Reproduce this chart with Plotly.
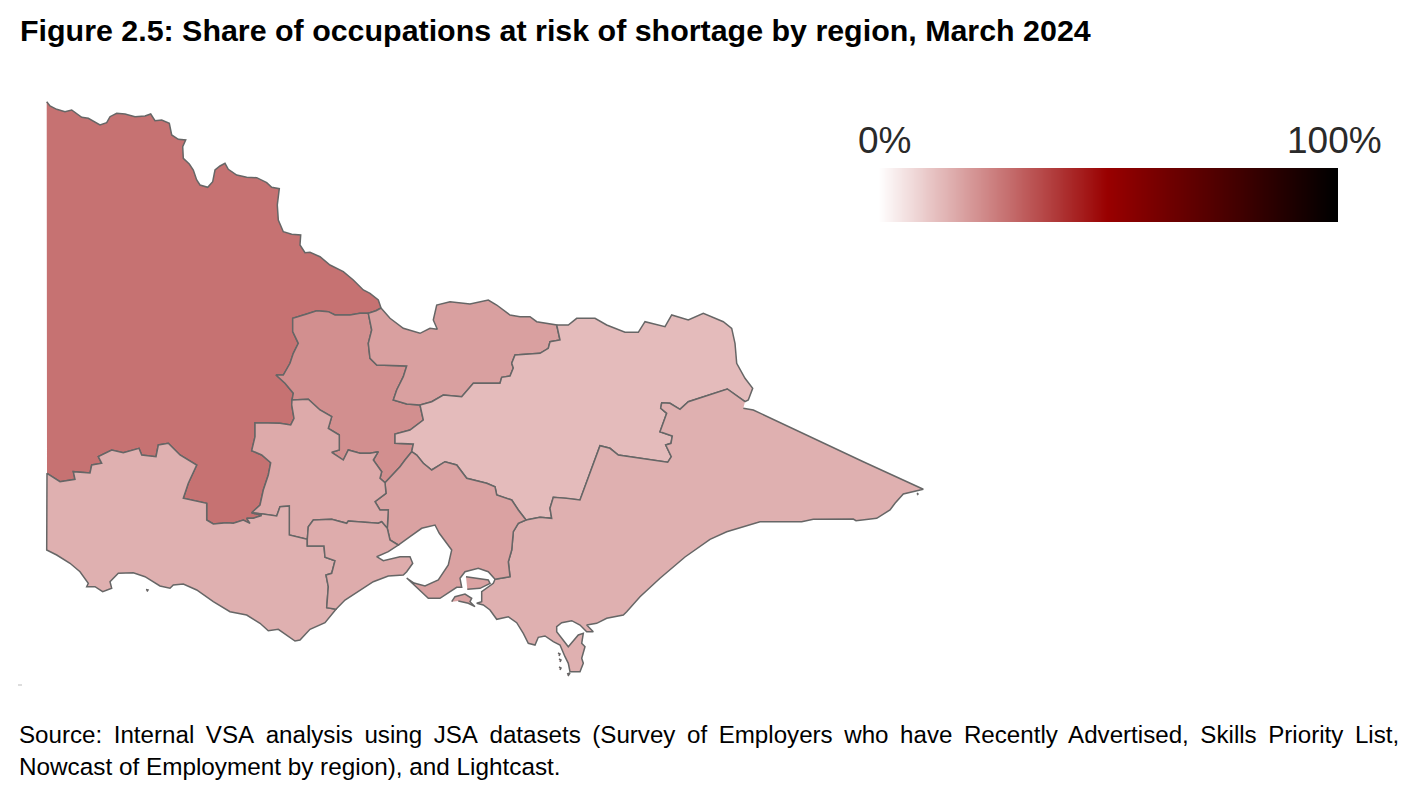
import plotly.graph_objects as go
from plotly.colors import sample_colorscale

# Traced borders, in reference pixels. Each border is shared by two regions
MURRAY_WEST = [(46.7,101.7),(50,106),(56.7,109.3),(65,111.7),(71.7,110),(76.7,113.3),(81.7,117.3),(88.3,118.3),(95,121.7),(100,125),
    (106.7,122.7),(110,116.7),(116.7,113.3),(125,114),(135,116.7),(145,116),(150.7,114),(155,120.7),(161.7,120),(169.3,123.3),
    (171.7,135),(178.3,139.3),(185.7,140),(182.7,146.7),(183.3,158.3),(189.3,164),(193.3,170),(196.7,180),(200,185),(207.7,187.3),
    (212.7,181.7),(215,170),(220,166),(225,163.3),(228.3,169.3),(236.7,175),(246.7,177.3),(256.7,177.7),(266.7,182.7),(271.7,187.3),
    (279.3,188.7),(277.3,205),(278.3,220),(283.3,231.7),(291.7,234.3),(300.7,235),(300,245),(305,252.7),(310,252.3),(320,256.7),
    (330,265),(343.3,271.7),(353.3,280),(363.3,290),(370,293.3),(378.3,300),(381,308)]
AC_TOP = [(381,308),(376,310.7),(368.3,313.3)]
AB = [(368.3,313.3),(360,313.3),(350,315),(335,315),(328.3,311.7),(316.7,310.7),(306.7,314),(292.7,318.3),(292.7,331.7),(298.3,343.3),
    (293.3,353.3),(290,363.3),(283.3,375),(276,375),(285,383.3),(293.3,393.3),(292,400)]
AG = [(292,400),(291.7,405),(294,418.3),(290.7,425),(280,423.3),(255,422.7),(255,436.7),(251.7,450.7),(261.7,455),(270.7,462.7),
    (268.3,475),(263.3,490),(260,505),(251.7,512.7)]
AH = [(251.7,512.7),(261.7,515.5),(253.3,518.3),(246.7,518.3),(250,523.3),(243.3,520),(233.3,523.3),(226.7,522.7),(213.3,524),(206.7,520),
    (206.7,503.3),(183.3,498.3),(188.3,483.3),(196.7,465),(180,455),(168.3,443.3),(158.3,445),(156,456.7),(141.7,455),(139,448.3),
    (123.3,452.7),(111.7,450),(98.3,456.7),(101.7,463.3),(91.7,465),(90,473),(73.3,471.7),(75,479.3),(60,481.7),(47,473.3)]
BG = [(292,400),(308.3,399.3),(320,410),(331.7,416.7),(328.3,428.3),(339.3,435),(339.3,450),(331.7,452.3),(343.3,460),(348.3,450),
    (360,453.3),(370,453.3),(378.3,451.7),(373.3,460),(381.7,471.7),(380,478.3),(385,482.7)]
BF = [(385,482.7),(400,466.7),(405,460),(411.7,451.7)]
BD = [(411.7,451.7),(413.3,444),(395,443.3),(395,434),(410,430),(423.3,420),(420,405)]
BC = [(420,405),(406.7,404),(393.3,400),(396.7,390),(403.3,376.7),(406.7,366),(376.7,365),(370,358.3),(368.3,343.3),(371.7,330),(368.3,313.3)]
C_NORTH = [(381,308),(390,318.3),(403.3,328.3),(420,333.3),(430,328.3),(437.3,329.3),(433.3,320),(436.7,305),(450,301.7),(470,304),
    (488.3,300),(496.7,305),(510,315),(520,316.7),(530,316.7),(536.7,321.7),(556.7,325)]
CD = [(556.7,325),(560,340),(550,341.7),(548.3,348.3),(540,353.3),(515,355),(511.7,363.3),(513.3,368),(510,376),(501.7,377.3),
    (500,383.3),(473.3,383.3),(461.7,396.7),(443.3,395),(431.7,401.7),(420,405)]
D_NORTH = [(556.7,325),(568.3,325),(576.7,318.3),(595,318.3),(606.7,325),(625,332.3),(638.3,332.3),(645,321.7),(665,326.7),(671.7,315),
    (688.3,320),(703.3,313.3),(723.3,321.7),(731.7,328.3),(735,343.3),(736.7,363.3),(745,378.3),(752.7,388.3),(748.3,400),(745,401.7)]
DE = [(745,401.7),(727.3,389),(688.3,401.7),(680,409.3),(670,403.3),(661.7,402.7),(660.7,408.3),(666.7,413.3),(660,431.7),(672.3,436),
    (671,443.3),(665.7,445),(671.3,456.7),(667.7,462.3),(618.3,455),(610,448.3),(600,445.7),(580,500),(566.7,498.3),(553.3,497.3),
    (550,508.3),(551.7,518.3),(540,517.3),(526,520)]
DF = [(411.7,451.7),(416.7,455),(423.3,463.3),(431.7,470),(445,461.7),(456.7,465),(466.7,478.3),(486.7,483.3),(495,486.7),(496.7,495),
    (511.7,500),(518.3,510),(526,520)]
EF = [(526,520),(518.3,523.3),(513.3,531.7),(511.7,550),(508.3,561.7),(510,576.7),(495,579.3)]
E_COAST = [(495,579.3),(493.3,583.3),(481.7,591.7),(481.7,601.7),(476.7,603.3),(483.3,605),(490,610),(496.7,619.3),(508.3,616.7),(516.7,622.7),
    (523.3,633.3),(528.3,643.3),(535,645),(538.3,637.3),(545,636),(553.3,641.7),(560,645),(565,656.7),(568.3,663.3),(570,671.7),
    (580,671.7),(583.3,663.3),(581.7,658.3),(585,646.7),(581.7,643.3),(583.3,633.3),(578.3,635),(568.3,646.7),(563.3,640),(556.7,631.7),
    (556.7,626.7),(561.7,622.7),(571.7,620.7),(580,625),(586.7,631.7),(593.3,631.7),(586.7,625),(596.7,623.3),(606.7,618.3),(623.3,615),
    (626.7,611.7),(640,596.7),(660,578.3),(685,557),(710,539.3),(726.7,531.7),(760,521.7),(801.7,521.7),(813.3,519.3),(853.3,519),
    (856,520.7),(876.7,518.3),(890,510),(895,503.3),(903.3,494),(923.3,489.3),(863.3,461.7),(800,431.7),(753.3,410),(743.3,408.3)]
F_COAST = [(495,579.3),(488.3,571.7),(478.3,568.3),(465,571.7),(460,578.3),(461.7,587.3),(456.7,587.3),(440,598.3),(428.3,598.3),(416,587),
    (406.7,578),(414,583),(425,586),(438.3,580),(448.3,565),(451.7,550),(439.3,533.3),(435,525),(421.7,528.3),(410,536.7),(398.3,545)]
IF = [(387.3,528.3),(390,540),(398.3,545)]
GF = [(385,482.7),(386,493.3),(375,501.7),(380,510),(388.3,510),(387.3,528.3)]
GI = [(307.3,539.3),(308.3,526.7),(313.3,520),(331.7,519.3),(346.7,523.3),(348.3,521),(378.3,523.3),(381.7,521.7),(387.3,528.3)]
GH = [(251.7,512.7),(263.3,514),(276.7,516),(280,506.7),(289.3,506),(289.3,535),(307.3,539.3)]
HI = [(336,609.3),(326.7,607.7),(328.3,586.7),(326,575),(331.7,573.3),(335,560.7),(325,557.3),(324,546),(307.3,546),(307.3,539.3)]
H_COAST = [(46.7,550),(56.7,555),(70,563.3),(80,571.7),(88.3,583.3),(86.7,586.7),(95,586.7),(102.7,591.7),(111.7,588.3),(110,581.7),
    (118.3,573.3),(133.3,572.7),(145,576.7),(160,586),(170,588.3),(173.3,585),(183.3,584),(196.7,590),(213.3,601.7),(230,611.7),
    (246.7,615),(260,623.3),(268.3,630.7),(278.3,629.3),(295,641),(300,640),(310,629.3),(325,622.7),(336,609.3)]
I_COAST = [(398.3,545),(388.3,551.7),(376.7,556.7),(383.3,560.7),(400,556.7),(410,556.7),(412.7,563.3),(406.7,571.7),(403.3,575),(388.3,576),
    (373.3,581.7),(358.3,591.7),(345,600),(336,609.3)]
FRENCH_ISLAND = [(466,576.7),(480,578.3),(488.3,580),(490,583.3),(480,588.3),(467.3,589.3)]
PHILLIP_ISLAND = [(451.7,601.7),(455,596.7),(465,594),(471.7,598.3),(470,601.7),(475,606.7),(468.3,603.3),(458.3,601)]
# tiny islands off the coast
SPECKS = [[(146,589.5),(148,590),(147,591.5)], [(558,653),(560,654),(559,656)], [(559,659),(561,660),(560,662)],
          [(559,667),(561,668),(560,670)], [(567,674),(570,673),(568,676)], [(917,493),(918,494),(917,495)]]
STRAY_MARK = [(18,685),(22,685)]


def rev(seg):
    return seg[::-1]


REGIONS = {
    "North West": MURRAY_WEST + AC_TOP + AB + AG + AH,
    "Loddon": AB + BG + BF + BD + BC,
    "Goulburn": C_NORTH + CD + BC + rev(AC_TOP),
    "Ovens Murray": D_NORTH + DE + rev(DF) + BD + rev(CD),
    "Gippsland": DE + EF + E_COAST,
    "Melbourne": DF + EF + F_COAST + rev(IF) + rev(GF) + BF,
    "Central Highlands": rev(AG) + BG + GF + rev(GI) + rev(GH),
    "South West": AH + H_COAST + HI + rev(GH),
    "Geelong": GI + IF + I_COAST + HI,
}
# share of occupations at risk of shortage
SHARES = [27.7, 22.0, 18.7, 13.3, 15.5, 18.2, 16.7, 15.5, 16.2]

COLORSCALE = [[0, "rgb(255,255,255)"], [0.5, "rgb(153,0,0)"], [1, "rgb(0,0,0)"]]
LEGEND_VALUES = list(range(0, 101))
LEGEND_LABELS = ["0%", "100%"]

TITLE = "Figure 2.5: Share of occupations at risk of shortage by region, March 2024"
SOURCE_1 = "Source: Internal VSA analysis using JSA datasets (Survey of Employers who have Recently Advertised, Skills Priority List,"
SOURCE_2 = "Nowcast of Employment by region), and Lightcast."


def fill_colour(share):
    return sample_colorscale(COLORSCALE, [share / 100])[0]


def add_shape(fig, name, pts, share):
    fig.add_trace(go.Scatter(x=[p[0] for p in pts], y=[p[1] for p in pts], name=name, mode="lines",
                             fill="toself", fillcolor=fill_colour(share),
                             line=dict(color="#666666", width=1.5), hoverinfo="name"))


fig = go.Figure()

for (name, pts), share in zip(REGIONS.items(), SHARES):
    add_shape(fig, name, pts, share)

add_shape(fig, "French Island", FRENCH_ISLAND, SHARES[5])
add_shape(fig, "Phillip Island", PHILLIP_ISLAND, SHARES[5])
for pts in SPECKS:
    add_shape(fig, "Island", pts, SHARES[4])

fig.add_trace(go.Scatter(x=[p[0] for p in STRAY_MARK], y=[p[1] for p in STRAY_MARK], mode="lines",
                         line=dict(color="#bbbbbb", width=1), hoverinfo="skip"))

# gradient key, cells are centred on their x and y so pull in by half a cell
key_dx = (1337.5 - 876) / len(LEGEND_VALUES)
fig.add_trace(go.Heatmap(z=[LEGEND_VALUES, LEGEND_VALUES], x0=876 + key_dx / 2, dx=key_dx, y=[181.5, 208.5],
                         zsmooth="best", colorscale=COLORSCALE, zmin=0, zmax=100, showscale=False, hoverinfo="skip"))

fig.add_annotation(x=17.5, y=30, text="<b>" + TITLE + "</b>", showarrow=False, xanchor="left",
                   font=dict(family="Liberation Sans", size=30.4, color="black"))
fig.add_annotation(x=17, y=734, text=SOURCE_1.replace(" ", "\u2009 "), showarrow=False, xanchor="left",
                   font=dict(family="Liberation Sans", size=24.15, color="black"))
fig.add_annotation(x=17, y=766, text=SOURCE_2, showarrow=False, xanchor="left",
                   font=dict(family="Liberation Sans", size=24.3, color="black"))
fig.add_annotation(x=856, y=140, text=LEGEND_LABELS[0], showarrow=False, xanchor="left",
                   font=dict(family="Liberation Sans", size=37, color="#2a2a2a"))
fig.add_annotation(x=1384, y=140, text=LEGEND_LABELS[1], showarrow=False, xanchor="right",
                   font=dict(family="Liberation Sans", size=37, color="#2a2a2a"))

# page body has an 8px margin, so the axes run in page pixels from 8
fig.update_layout(width=1404, height=779, margin=dict(l=0, r=0, t=0, b=0), showlegend=False,
                  plot_bgcolor="white", paper_bgcolor="white",
                  xaxis=dict(range=[8, 1412], visible=False),
                  yaxis=dict(range=[787, 8], visible=False))

fig.write_html("out.html")
